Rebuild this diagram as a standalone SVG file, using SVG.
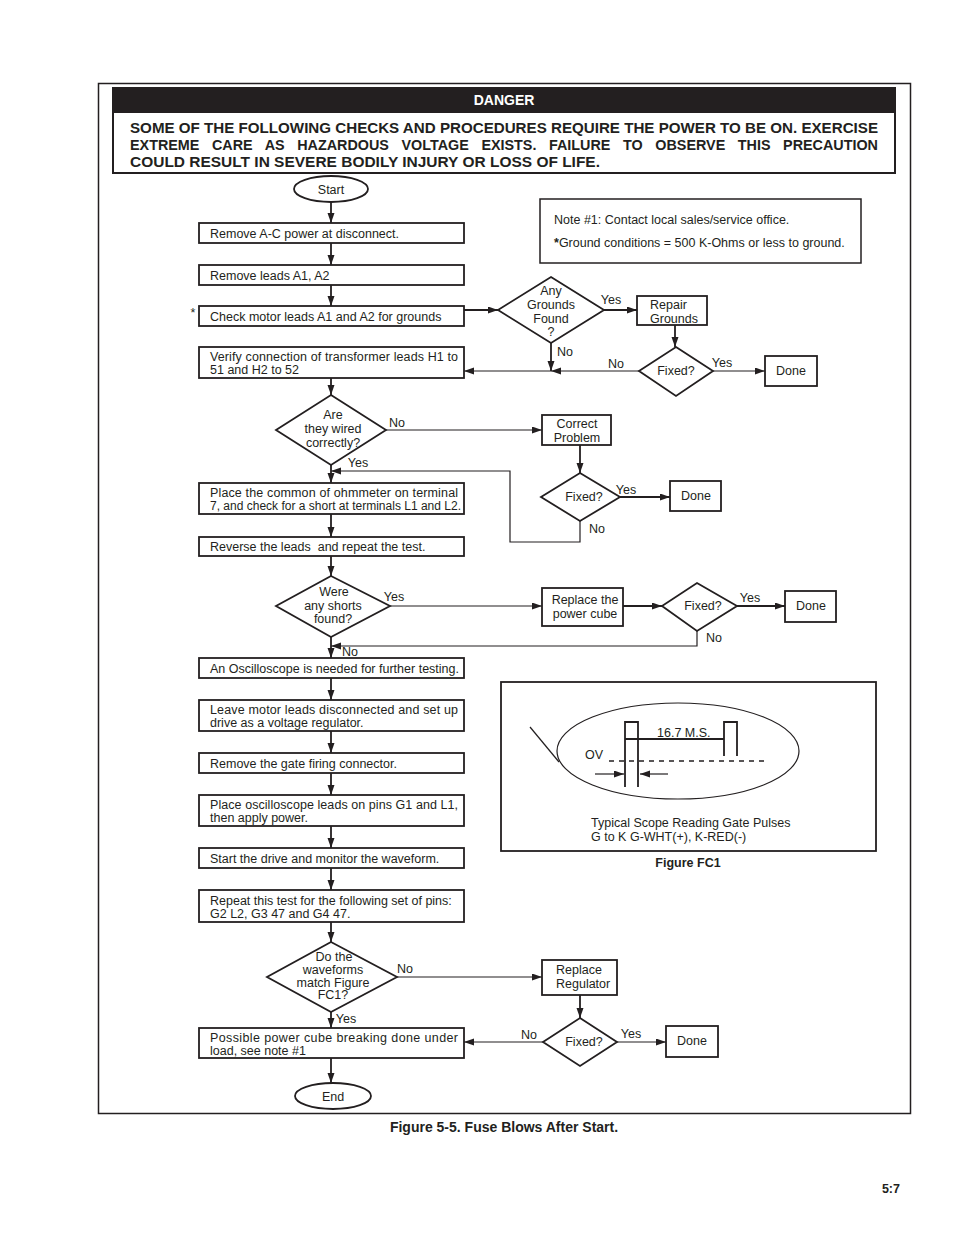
<svg xmlns="http://www.w3.org/2000/svg" width="954" height="1235" viewBox="0 0 954 1235">
<style>
.t{font-family:"Liberation Sans",Arial,Helvetica,sans-serif;font-size:12.5px;fill:#231f20}
.c{text-anchor:middle}
.b{font-weight:bold}
.box{fill:#fff;stroke:#231f20;stroke-width:1.8}
.ln{fill:none;stroke:#231f20;stroke-width:1.8}
.thin{fill:none;stroke:#231f20;stroke-width:1.2}
</style>
<defs>
<marker id="ah" markerUnits="userSpaceOnUse" markerWidth="11" markerHeight="8" refX="10" refY="3.5" orient="auto">
<path d="M0,0 L10,3.5 L0,7 z" fill="#231f20"/>
</marker>
</defs>
<rect width="954" height="1235" fill="#fff"/>
<rect x="98.5" y="83.5" width="812" height="1030" fill="none" stroke="#231f20" stroke-width="1.5"/>

<g id="danger">
<rect x="113" y="88" width="782" height="85" fill="#fff" stroke="#231f20" stroke-width="2"/>
<rect x="113" y="88" width="782" height="25" fill="#231f20"/>
<text x="504" y="105" class="t c b" style="font-size:14px;fill:#fff">DANGER</text>
<text x="130" y="133" class="t b" style="font-size:15px" textLength="748" lengthAdjust="spacingAndGlyphs">SOME OF THE FOLLOWING CHECKS AND PROCEDURES REQUIRE THE POWER TO BE ON. EXERCISE</text>
<text x="130" y="150" class="t b" style="font-size:15px;word-spacing:9px" textLength="748" lengthAdjust="spacingAndGlyphs">EXTREME CARE AS HAZARDOUS VOLTAGE EXISTS. FAILURE TO OBSERVE THIS PRECAUTION</text>
<text x="130" y="167" class="t b" style="font-size:15px" textLength="470" lengthAdjust="spacingAndGlyphs">COULD RESULT IN SEVERE BODILY INJURY OR LOSS OF LIFE.</text>
</g>

<g id="note">
<rect x="540" y="199" width="321" height="64" fill="#fff" stroke="#231f20" stroke-width="1.5"/>
<text x="554" y="224" class="t">Note #1: Contact local sales/service office.</text>
<text x="554" y="247" class="t"><tspan class="b">*</tspan>Ground conditions = 500 K-Ohms or less to ground.</text>
</g>

<g id="connectors">
<line x1="331" y1="202" x2="331" y2="223" class="ln" marker-end="url(#ah)"/>
<line x1="331" y1="243" x2="331" y2="265" class="ln" marker-end="url(#ah)"/>
<line x1="331" y1="285" x2="331" y2="306" class="ln" marker-end="url(#ah)"/>
<line x1="464" y1="310" x2="498" y2="310" class="ln" marker-end="url(#ah)"/>
<line x1="604" y1="310" x2="637" y2="310" class="ln" marker-end="url(#ah)"/>
<line x1="675" y1="325" x2="675" y2="347" class="ln" marker-end="url(#ah)"/>
<line x1="713" y1="371" x2="765" y2="371" class="thin" marker-end="url(#ah)"/>
<line x1="639" y1="371" x2="551" y2="371" class="thin" marker-end="url(#ah)"/>
<line x1="551" y1="371" x2="464" y2="371" class="thin" marker-end="url(#ah)"/>
<line x1="551" y1="343" x2="551" y2="371" class="ln" marker-end="url(#ah)"/>
<line x1="331" y1="378" x2="331" y2="395" class="ln" marker-end="url(#ah)"/>
<line x1="386" y1="430" x2="542" y2="430" class="thin" marker-end="url(#ah)"/>
<line x1="580" y1="445" x2="580" y2="473" class="ln" marker-end="url(#ah)"/>
<line x1="620" y1="497" x2="670" y2="497" class="ln" marker-end="url(#ah)"/>
<polyline points="580,521 580,542 510,542 510,471 331,471" class="thin" marker-end="url(#ah)"/>
<line x1="331" y1="465" x2="331" y2="483" class="ln" marker-end="url(#ah)"/>
<line x1="331" y1="514" x2="331" y2="537" class="ln" marker-end="url(#ah)"/>
<line x1="331" y1="556" x2="331" y2="576" class="ln" marker-end="url(#ah)"/>
<line x1="390" y1="606" x2="542" y2="606" class="thin" marker-end="url(#ah)"/>
<line x1="623" y1="606" x2="662" y2="606" class="ln" marker-end="url(#ah)"/>
<line x1="737" y1="606" x2="785" y2="606" class="ln" marker-end="url(#ah)"/>
<polyline points="697,631 697,646 331,646" class="thin" marker-end="url(#ah)"/>
<line x1="331" y1="637" x2="331" y2="658" class="ln" marker-end="url(#ah)"/>
<line x1="331" y1="678" x2="331" y2="700" class="ln" marker-end="url(#ah)"/>
<line x1="331" y1="731" x2="331" y2="753" class="ln" marker-end="url(#ah)"/>
<line x1="331" y1="773" x2="331" y2="795" class="ln" marker-end="url(#ah)"/>
<line x1="331" y1="826" x2="331" y2="848" class="ln" marker-end="url(#ah)"/>
<line x1="331" y1="868" x2="331" y2="890" class="ln" marker-end="url(#ah)"/>
<line x1="331" y1="922" x2="331" y2="942" class="ln" marker-end="url(#ah)"/>
<line x1="397" y1="977" x2="542" y2="977" class="thin" marker-end="url(#ah)"/>
<line x1="580" y1="995" x2="580" y2="1018" class="ln" marker-end="url(#ah)"/>
<line x1="617" y1="1042" x2="666" y2="1042" class="thin" marker-end="url(#ah)"/>
<line x1="543" y1="1042" x2="464" y2="1042" class="thin" marker-end="url(#ah)"/>
<line x1="331" y1="1012" x2="331" y2="1028" class="ln" marker-end="url(#ah)"/>
<line x1="331" y1="1058" x2="331" y2="1083" class="ln" marker-end="url(#ah)"/>
</g>

<g id="labels">
<text x="611" y="304" class="t c">Yes</text>
<text x="565" y="356" class="t c">No</text>
<text x="616" y="368" class="t c">No</text>
<text x="722" y="367" class="t c">Yes</text>
<text x="397" y="427" class="t c">No</text>
<text x="358" y="467" class="t c">Yes</text>
<text x="626" y="494" class="t c">Yes</text>
<text x="597" y="533" class="t c">No</text>
<text x="394" y="601" class="t c">Yes</text>
<text x="750" y="602" class="t c">Yes</text>
<text x="714" y="642" class="t c">No</text>
<text x="350" y="656" class="t c">No</text>
<text x="405" y="973" class="t c">No</text>
<text x="346" y="1023" class="t c">Yes</text>
<text x="529" y="1039" class="t c">No</text>
<text x="631" y="1038" class="t c">Yes</text>
</g>

<g id="start"><ellipse cx="331" cy="189" rx="37" ry="13" class="box"/><text x="331" y="194" class="t c">Start</text></g>
<g id="b1"><rect x="199" y="223" width="265" height="20" class="box"/><text x="210" y="238" class="t">Remove A-C power at disconnect.</text></g>
<g id="b2"><rect x="199" y="265" width="265" height="20" class="box"/><text x="210" y="280" class="t">Remove leads A1, A2</text></g>
<g id="b3"><rect x="199" y="306" width="265" height="20" class="box"/><text x="210" y="321" class="t">Check motor leads A1 and A2 for grounds</text><text x="193" y="317" class="t c">*</text></g>
<g id="b4"><rect x="199" y="347" width="265" height="31" class="box"/><text x="210" y="361" class="t" textLength="248" lengthAdjust="spacing">Verify connection of transformer leads H1 to</text><text x="210" y="374" class="t">51 and H2 to 52</text></g>
<g id="dGrounds"><polygon points="551,277 604,310 551,343 498,310" class="box"/><text x="551" y="295" class="t c">Any</text><text x="551" y="309" class="t c">Grounds</text><text x="551" y="323" class="t c">Found</text><text x="551" y="336" class="t c">?</text></g>
<g id="repair"><rect x="637" y="296" width="70" height="29" class="box"/><text x="650" y="309" class="t">Repair</text><text x="650" y="323" class="t">Grounds</text></g>
<g id="fixed1"><polygon points="676,347 713,371 676,396 639,371" class="box"/><text x="676" y="375" class="t c">Fixed?</text></g>
<g id="done1"><rect x="765" y="356" width="52" height="30" class="box"/><text x="791" y="375" class="t c">Done</text></g>

<g id="dWired"><polygon points="331,395 386,430 331,465 276,430" class="box"/><text x="333" y="419" class="t c">Are</text><text x="333" y="433" class="t c">they wired</text><text x="333" y="447" class="t c">correctly?</text></g>
<g id="correct"><rect x="542" y="415" width="69" height="30" class="box"/><text x="577" y="428" class="t c">Correct</text><text x="577" y="442" class="t c">Problem</text></g>
<g id="fixed2"><polygon points="580,473 620,497 580,521 541,497" class="box"/><text x="584" y="501" class="t c">Fixed?</text></g>
<g id="done2"><rect x="670" y="481" width="51" height="30" class="box"/><text x="696" y="500" class="t c">Done</text></g>

<g id="b5"><rect x="199" y="483" width="265" height="31" class="box"/><text x="210" y="497" class="t" textLength="248" lengthAdjust="spacing">Place the common of ohmmeter on terminal</text><text x="210" y="510" class="t" textLength="251" lengthAdjust="spacingAndGlyphs">7, and check for a short at terminals L1 and L2.</text></g>
<g id="b6"><rect x="199" y="537" width="265" height="19" class="box"/><text x="210" y="551" class="t" style="white-space:pre" xml:space="preserve">Reverse the leads  and repeat the test.</text></g>
<g id="dShorts"><polygon points="331,576 390,606 331,637 276,606" class="box"/><text x="334" y="596" class="t c">Were</text><text x="333" y="610" class="t c">any shorts</text><text x="333" y="623" class="t c">found?</text></g>
<g id="cube"><rect x="542" y="588" width="81" height="38" class="box"/><text x="585" y="604" class="t c">Replace the</text><text x="585" y="618" class="t c">power cube</text></g>
<g id="fixed3"><polygon points="697,583 737,606 697,631 662,606" class="box"/><text x="703" y="610" class="t c">Fixed?</text></g>
<g id="done3"><rect x="785" y="591" width="51" height="31" class="box"/><text x="811" y="610" class="t c">Done</text></g>

<g id="b7"><rect x="199" y="658" width="265" height="20" class="box"/><text x="210" y="673" class="t" textLength="249" lengthAdjust="spacingAndGlyphs">An Oscilloscope is needed for further testing.</text></g>
<g id="b8"><rect x="199" y="700" width="265" height="31" class="box"/><text x="210" y="714" class="t" textLength="248" lengthAdjust="spacing">Leave motor leads disconnected and set up</text><text x="210" y="727" class="t">drive as a voltage regulator.</text></g>
<g id="b9"><rect x="199" y="753" width="265" height="20" class="box"/><text x="210" y="768" class="t">Remove the gate firing connector.</text></g>
<g id="b10"><rect x="199" y="795" width="265" height="31" class="box"/><text x="210" y="809" class="t" textLength="248" lengthAdjust="spacing">Place oscilloscope leads on pins G1 and L1,</text><text x="210" y="822" class="t">then apply power.</text></g>
<g id="b11"><rect x="199" y="848" width="265" height="20" class="box"/><text x="210" y="863" class="t">Start the drive and monitor the waveform.</text></g>
<g id="b12"><rect x="199" y="890" width="265" height="32" class="box"/><text x="210" y="905" class="t">Repeat this test for the following set of pins:</text><text x="210" y="918" class="t">G2 L2, G3 47 and G4 47.</text></g>
<g id="dMatch"><polygon points="331,942 397,977 331,1012 267,977" class="box"/><text x="334" y="961" class="t c">Do the</text><text x="333" y="974" class="t c">waveforms</text><text x="333" y="987" class="t c">match Figure</text><text x="333" y="999" class="t c">FC1?</text></g>
<g id="regulator"><rect x="542" y="960" width="75" height="35" class="box"/><text x="556" y="974" class="t">Replace</text><text x="556" y="988" class="t">Regulator</text></g>
<g id="fixed4"><polygon points="580,1018 617,1042 580,1066 543,1042" class="box"/><text x="584" y="1046" class="t c">Fixed?</text></g>
<g id="done4"><rect x="666" y="1026" width="52" height="31" class="box"/><text x="692" y="1045" class="t c">Done</text></g>
<g id="b13"><rect x="199" y="1028" width="265" height="30" class="box"/><text x="210" y="1042" class="t" textLength="248" lengthAdjust="spacing">Possible power cube breaking done under</text><text x="210" y="1055" class="t">load, see note #1</text></g>
<g id="end"><ellipse cx="333" cy="1096" rx="38" ry="13" class="box"/><text x="333" y="1101" class="t c">End</text></g>

<g id="figFC1">
<rect x="501" y="682" width="375" height="169" fill="#fff" stroke="#231f20" stroke-width="1.8"/>
<ellipse cx="678" cy="751" rx="121" ry="48" fill="none" stroke="#231f20" stroke-width="1.2"/>
<line x1="530" y1="727" x2="559" y2="762" stroke="#231f20" stroke-width="1.2"/>
<text x="585" y="759" class="t">OV</text>
<line x1="609" y1="761" x2="765" y2="761" stroke="#231f20" stroke-width="1.5" stroke-dasharray="5,5"/>
<polyline points="625,787 625,722 638,722 638,787" fill="none" stroke="#231f20" stroke-width="1.8"/>
<polyline points="724,756 724,722 737,722 737,756" fill="none" stroke="#231f20" stroke-width="1.8"/>
<line x1="625" y1="739" x2="724" y2="739" stroke="#231f20" stroke-width="1.8"/>
<text x="657" y="737" class="t">16.7 M.S.</text>
<line x1="595" y1="774" x2="624" y2="774" class="thin" marker-end="url(#ah)"/>
<line x1="668" y1="774" x2="640" y2="774" class="thin" marker-end="url(#ah)"/>
<text x="591" y="827" class="t">Typical Scope Reading Gate Pulses</text>
<text x="591" y="841" class="t">G to K G-WHT(+), K-RED(-)</text>
</g>
<text x="688" y="867" class="t c b">Figure FC1</text>

<text x="504" y="1132" class="t c b" style="font-size:14px">Figure 5-5. Fuse Blows After Start.</text>
<text x="900" y="1193" class="t b" style="text-anchor:end">5:7</text>
</svg>
